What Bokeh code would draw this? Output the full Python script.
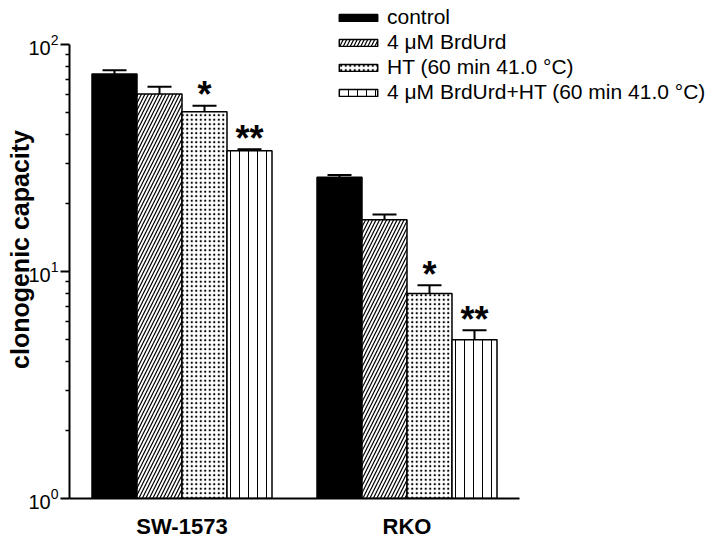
from bokeh.plotting import figure
from bokeh.models import (ColumnDataSource, Whisker, TeeHead, Legend, LegendItem,
                          FixedTicker, LogTickFormatter, Range1d)
from bokeh.core.properties import value
from bokeh.embed import file_html
from bokeh.resources import INLINE

# ---------------- data ----------------
groups = ["SW-1573", "RKO"]
treatments = ["control", "4 μM BrdUrd", "HT (60 min 41.0 °C)",
              "4 μM BrdUrd+HT (60 min 41.0 °C)"]
sw1573_mean = [74.0, 60.5, 50.5, 34.0]
sw1573_sem = [2.8, 4.5, 3.2, 0.5]
rko_mean = [26.0, 16.9, 8.0, 5.0]
rko_sem = [0.6, 0.9, 0.7, 0.5]
significance = ["", "", "*", "**"]
y_ticks = [1, 10, 100]
y_minor_ticks = [2, 3, 4, 5, 6, 7, 8, 9, 20, 30, 40, 50, 60, 70, 80, 90]

# ---------------- layout / style ----------------
FONT = "Liberation Sans"
W, H = 716, 541
LEFT, BOTTOM = 69, 41          # frame borders (px)
AXIS_W_PX = 450                # length of the x axis line (px)
TOP_PAD_PX = 44                # space above the 10^2 tick (px)
DECADE_PX = (H - BOTTOM - TOP_PAD_PX) / 2.0

fills = ["black", "white", "white", "white"]
hatch_patterns = [" ", "/", ".", "|"]
hatch_scales = [1, 7, 4.5, 9]
hatch_weights = [1, 1.2, 1.6, 1.0]

means = [sw1573_mean, rko_mean]
sems = [sw1573_sem, rko_sem]

slot = 2          # x units per bar
group_span = 10   # x units per group
x_axis_end = group_span * len(groups)
x_end = x_axis_end * (W - LEFT) / AXIS_W_PX
y_end = y_ticks[-1] * 10 ** (TOP_PAD_PX / DECADE_PX)

p = figure(width=W, height=H, y_axis_type="log",
           x_range=Range1d(0, x_end), y_range=Range1d(y_ticks[0], y_end),
           output_backend="svg", toolbar_location=None,
           min_border_left=LEFT, min_border_right=0, min_border_top=0,
           min_border_bottom=BOTTOM)
p.grid.visible = False
p.outline_line_color = None
p.background_fill_color = "white"

items = []
for i, t in enumerate(treatments):
    xs = [g * group_span + slot * (i + 1) for g in range(len(groups))]
    tops = [means[g][i] for g in range(len(groups))]
    ups = [means[g][i] + sems[g][i] for g in range(len(groups))]
    src = ColumnDataSource(dict(x=xs, top=tops, upper=ups,
                                star=[significance[i]] * len(groups)))
    r = p.vbar(x="x", top="top", bottom=y_ticks[0], width=slot, source=src,
               fill_color=fills[i], line_color="black", line_width=1.5,
               hatch_pattern=hatch_patterns[i], hatch_scale=hatch_scales[i],
               hatch_weight=hatch_weights[i], hatch_color="black")
    items.append(LegendItem(label=t, renderers=[r]))
    w = Whisker(base="x", lower="top", upper="upper", source=src,
                dimension="height", line_width=2, line_color="black",
                upper_head=TeeHead(size=24, line_width=2, line_color="black"),
                lower_head=None, level="glyph")
    p.add_layout(w)
    if significance[i]:
        p.text(x="x", y="upper", text="star", source=src, text_align="center",
               text_baseline="alphabetic", text_font=value(FONT),
               text_font_style="bold", text_font_size="36px", y_offset=-11,
               text_color="black")

# y axis
p.yaxis.bounds = (y_ticks[0], y_ticks[-1])
p.yaxis.ticker = FixedTicker(ticks=y_ticks, minor_ticks=y_minor_ticks)
p.yaxis.formatter = LogTickFormatter()
p.yaxis.major_label_text_font = FONT
p.yaxis.major_label_text_font_size = "20px"
p.yaxis.major_label_text_color = "black"
p.yaxis.major_label_standoff = 2
p.yaxis.axis_line_width = 2
p.yaxis.major_tick_line_width = 2
p.yaxis.major_tick_out = 9
p.yaxis.major_tick_in = 0
p.yaxis.minor_tick_out = 4
p.yaxis.minor_tick_in = 0
p.yaxis.minor_tick_line_width = 1.5
p.yaxis.axis_label = "clonogenic capacity"
p.yaxis.axis_label_text_font = FONT
p.yaxis.axis_label_text_font_style = "bold"
p.yaxis.axis_label_text_font_size = "25px"
p.yaxis.axis_label_text_color = "black"
p.yaxis.axis_label_standoff = -9

# x axis
group_centers = [g * group_span + group_span / 2 for g in range(len(groups))]
p.xaxis.bounds = (0, x_axis_end)
p.xaxis.ticker = FixedTicker(ticks=group_centers)
p.xaxis.major_label_overrides = {int(c): n for c, n in zip(group_centers, groups)}
p.xaxis.axis_line_width = 2
p.xaxis.major_tick_line_color = None
p.xaxis.minor_tick_line_color = None
p.xaxis.major_tick_out = 0
p.xaxis.major_tick_in = 0
p.xaxis.minor_tick_out = 0
p.xaxis.minor_tick_in = 0
p.xaxis.major_label_standoff = 15
p.xaxis.major_label_text_font = FONT
p.xaxis.major_label_text_font_style = "bold"
p.xaxis.major_label_text_font_size = "22px"
p.xaxis.major_label_text_color = "black"

legend = Legend(items=items, location=(265, 394), glyph_width=48, glyph_height=9,
                label_standoff=5, spacing=1, padding=0, margin=0,
                border_line_color=None, background_fill_alpha=0,
                label_text_font=FONT, label_text_font_size="21px",
                label_height=20, label_text_color="black")
p.add_layout(legend)

open("out.html", "w").write(file_html(p, INLINE))
